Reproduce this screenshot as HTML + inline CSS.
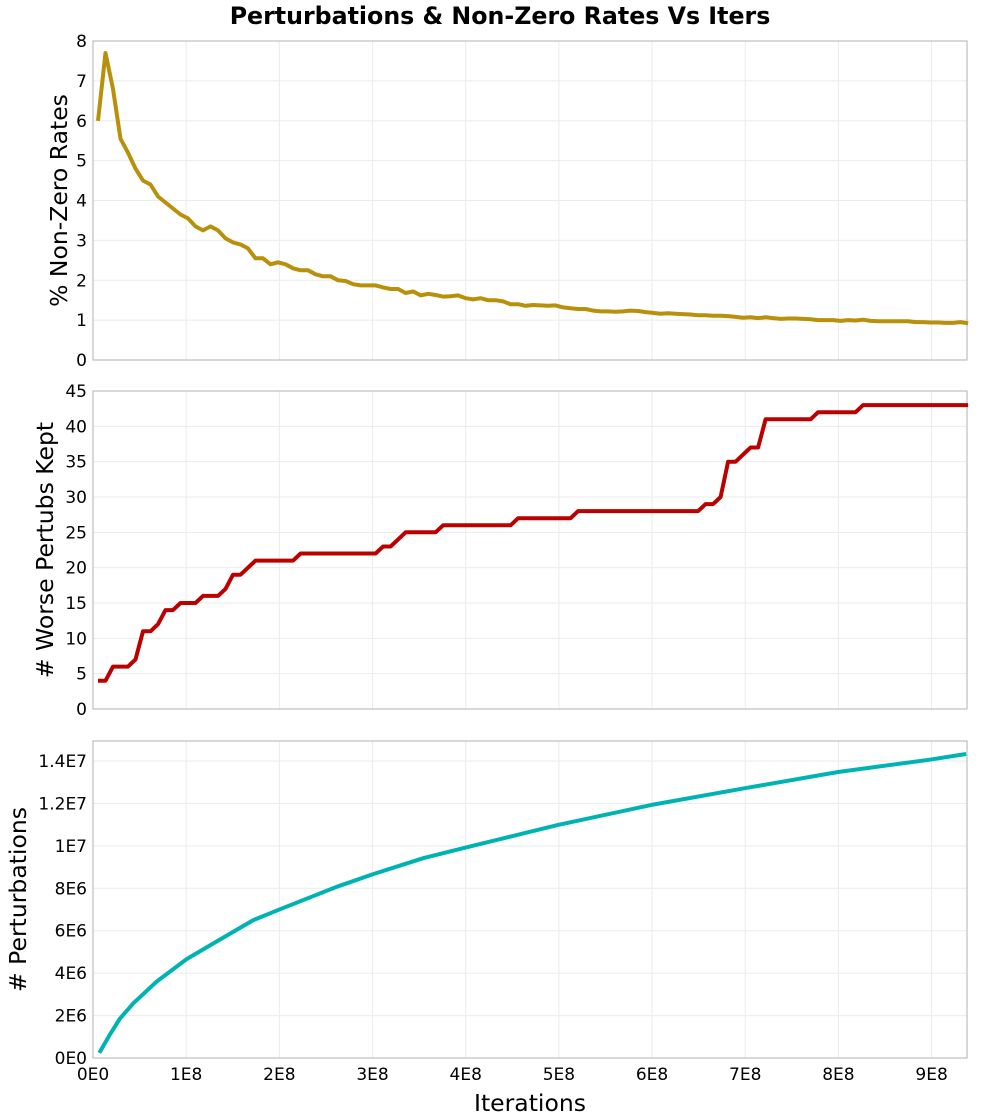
<!DOCTYPE html>
<html><head><meta charset="utf-8"><style>
html,body{margin:0;padding:0;background:#fff;}
svg{display:block;font-family:"DejaVu Sans","Liberation Sans",sans-serif;}
</style></head><body>
<svg id="chart" width="1000" height="1120">
<text x="500" y="24" text-anchor="middle" font-size="23.7" font-weight="bold">Perturbations &amp; Non-Zero Rates Vs Iters</text>
</svg>
<script>
const xStart = 5.4e6;
const xStep = 8.05e6;
const nzRates = [6.0,7.7,6.8,5.55,5.2,4.8,4.5,4.4,4.1,3.95,3.8,3.65,3.55,3.35,3.25,3.35,3.25,3.05,2.95,2.9,2.8,2.55,2.55,2.4,2.45,2.4,2.3,2.25,2.25,2.15,2.1,2.1,2.0,1.98,1.9,1.87,1.87,1.87,1.82,1.78,1.78,1.68,1.72,1.62,1.66,1.63,1.59,1.6,1.62,1.55,1.52,1.55,1.5,1.5,1.47,1.4,1.4,1.36,1.38,1.37,1.36,1.37,1.32,1.3,1.28,1.28,1.24,1.22,1.22,1.21,1.22,1.24,1.23,1.2,1.18,1.16,1.17,1.16,1.15,1.14,1.12,1.12,1.11,1.11,1.1,1.08,1.06,1.07,1.05,1.07,1.05,1.03,1.04,1.04,1.03,1.02,1.0,1.0,1.0,0.98,1.0,0.99,1.01,0.98,0.97,0.97,0.97,0.97,0.97,0.95,0.95,0.94,0.94,0.93,0.93,0.95,0.92];
const worseKept = [4,4,6,6,6,7,11,11,12,14,14,15,15,15,16,16,16,17,19,19,20,21,21,21,21,21,21,22,22,22,22,22,22,22,22,22,22,22,23,23,24,25,25,25,25,25,26,26,26,26,26,26,26,26,26,26,27,27,27,27,27,27,27,27,28,28,28,28,28,28,28,28,28,28,28,28,28,28,28,28,28,29,29,30,35,35,36,37,37,41,41,41,41,41,41,41,42,42,42,42,42,42,43,43,43,43,43,43,43,43,43,43,43,43,43,43,43];
const pertIters = [6.8e6,1.8e7,2.9e7,4.32e7,6.83e7,1.005e8,1.327e8,1.72e8,2.006e8,2.615e8,3.007e8,3.544e8,4.01e8,4.99e8,5.995e8,6.996e8,7.997e8,8.98e8,9.37e8];
const pertVals = [0.24e6,1.1e6,1.86e6,2.58e6,3.6e6,4.66e6,5.49e6,6.5e6,7.01e6,8.07e6,8.67e6,9.42e6,9.93e6,10.99e6,11.93e6,12.72e6,13.48e6,14.06e6,14.33e6];
const xTicks = [0,1e8,2e8,3e8,4e8,5e8,6e8,7e8,8e8,9e8];
const xTickLabels = ["0E0","1E8","2E8","3E8","4E8","5E8","6E8","7E8","8E8","9E8"];
const nzTicks = [0,1,2,3,4,5,6,7,8];
const wkTicks = [0,5,10,15,20,25,30,35,40,45];
const ptTicks = [0,2e6,4e6,6e6,8e6,1e7,1.2e7,1.4e7];
const ptTickLabels = ["0E0","2E6","4E6","6E6","8E6","1E7","1.2E7","1.4E7"];

const NS = "http://www.w3.org/2000/svg";
const svg = document.getElementById('chart');
const L = 93, R = 967, XMAX = 9.38e8;
const xs = v => L + v / XMAX * (R - L);
function mk(tag, attrs, parent) {
  const e = document.createElementNS(NS, tag);
  for (const k in attrs) e.setAttribute(k, attrs[k]);
  (parent || svg).appendChild(e);
  return e;
}
function panel(name, top, bot, yMax, ticks, labels, title, showX) {
  const g = mk('g', {});
  
  
  const ys = v => bot - v / yMax * (bot - top);
  xTicks.forEach((t, i) => {
    const gl = mk('line', {x1: xs(t), x2: xs(t), y1: top, y2: bot, stroke: '#ebebeb', 'stroke-width': 1}, g);
    
    
    if (showX) {
      const tx = mk('text', {x: xs(t), y: bot + 22, 'text-anchor': 'middle', 'font-size': 17}, g);
      tx.textContent = xTickLabels[i];
      
      
    }
  });
  ticks.forEach((t, i) => {
    const gl = mk('line', {x1: L, x2: R, y1: ys(t), y2: ys(t), stroke: '#ebebeb', 'stroke-width': 1}, g);
    
    
    const tx = mk('text', {x: L - 6, y: ys(t) + 6, 'text-anchor': 'end', 'font-size': 17}, g);
    tx.textContent = labels ? labels[i] : String(t);
    
    
  });
  const fr = mk('rect', {x: L, y: top, width: R - L, height: bot - top, fill: 'none', stroke: '#b0b0b0', 'stroke-width': 1}, g);
  
  
  const yt = mk('text', {x: 0, y: 0, 'text-anchor': 'middle', 'font-size': 23.5, transform: 'translate(' + (title.x) + ',' + ((top + bot) / 2) + ') rotate(-90)'}, g);
  yt.textContent = title.t;
  
  
  return {g, ys};
}
function line(p, xsArr, vals, color, name) {
  const pts = vals.map((v, i) => xs(xsArr(i)).toFixed(1) + ',' + p.ys(v).toFixed(1)).join(' ');
  const pl = mk('polyline', {points: pts, fill: 'none', stroke: color, 'stroke-width': 4, 'stroke-linejoin': 'round'}, p.g);
  
  
}
const p1 = panel('nonzero-rates', 41, 360, 8, nzTicks, null, {x: 67, t: '% Non-Zero Rates'}, false);
line(p1, i => xStart + xStep * i, nzRates, '#b8900a', 'nonzero-rates-line');
const p2 = panel('worse-perturbs', 391, 709, 45, wkTicks, null, {x: 53, t: '# Worse Pertubs Kept'}, false);
line(p2, i => xStart + xStep * i, worseKept, '#bb0000', 'worse-perturbs-line');
const p3 = panel('perturbations', 741, 1058, 1.4e7 * (1058 - 741) / (1058 - 761), ptTicks, ptTickLabels, {x: 26, t: '# Perturbations'}, true);
line(p3, i => pertIters[i], pertVals, '#00b3b3', 'perturbations-line');
const xt = mk('text', {x: 530, y: 1111, 'text-anchor': 'middle', 'font-size': 23.5});
xt.textContent = 'Iterations';


</script>
</body></html>
